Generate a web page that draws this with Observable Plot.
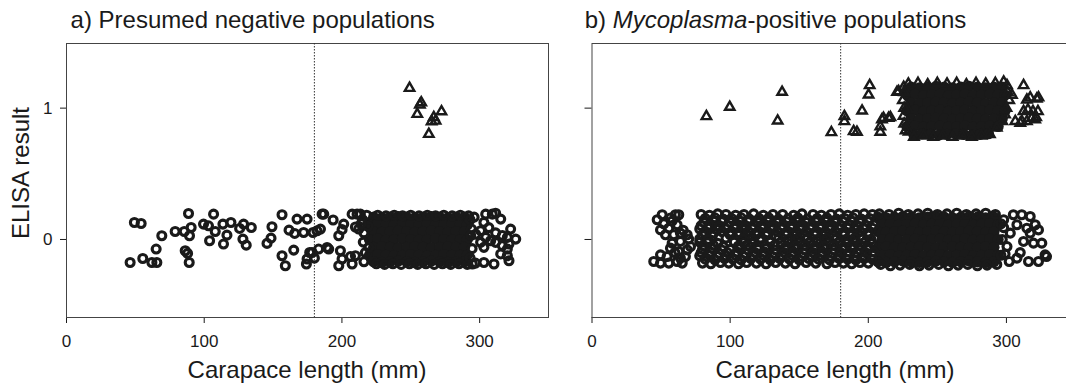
<!DOCTYPE html>
<html><head><meta charset="utf-8">
<script src="https://cdn.jsdelivr.net/npm/d3@7"></script>
<script src="https://cdn.jsdelivr.net/npm/@observablehq/plot@0.6"></script>
<style>
html,body{margin:0;padding:0;background:#fff;overflow:hidden}
#wrap{position:relative;width:1066px;height:385px;overflow:hidden;background:#fff;font-family:"Liberation Sans",Arial,Helvetica,sans-serif;color:#1a1a1a}
.lab{position:absolute;font-size:24px;line-height:1;white-space:nowrap}
.xt{transform:translateX(-50%)}
#pa svg,#pb svg{max-width:none!important}
</style></head>
<body>
<div id="wrap">
  <div id="pa" style="position:absolute;left:0;top:0;width:560px"></div>
  <div id="pb" style="position:absolute;left:560px;top:0;width:515px"></div>
  <div class="lab" style="left:70.6px;top:8px">a) Presumed negative populations</div>
  <div class="lab" style="left:584.7px;top:8px">b) <i>Mycoplasma</i>-positive populations</div>
  <div class="lab xt" style="left:307px;top:358px">Carapace length (mm)</div>
  <div class="lab xt" style="left:835px;top:358px">Carapace length (mm)</div>
  <div class="lab" style="left:20.7px;top:172.5px;transform:translate(-50%,-50%) rotate(-90deg)">ELISA result</div>
</div>
<script>
// ---- data: [carapace length (mm), jittered ELISA result] ----
const xTicks = [0, 100, 200, 300];
const yTicks = [0, 1];
const cutoff = [180];

// Panel a: negatives (open circles)
const aNeg = [
[46.2,-0.175],[49.3,0.129],[54.2,0.122],[55.4,-0.145],[62,-0.175],[65.6,-0.175],[65.1,-0.073],[69.2,0.028],[78.9,0.061],[85.5,0.061],[88.6,0.198],[90.5,0.091],[89.3,0.028],[86.2,-0.086],[87.9,-0.106],[89.1,-0.175],[99.5,0.117],[103.1,0.104],[106.8,0.193],[103.9,-0.01],[108,0.061],[113.6,0.117],[119.4,0.129],[116.5,0.033],[114,-0.035],[125.7,0.084],[128.6,0.117],[134.2,0.091],[128.1,0.003],[130.5,-0.043],[145.6,-0.03],[148.5,0.01],[149.2,0.097],[156.5,0.188],[156.5,-0.124],[158.9,-0.2],[161.6,0.071],[165.7,0.046],[165,-0.081],[167.4,0.155],[172.2,0.053],[174.7,0.155],[174.2,-0.187],[176.6,-0.099],[180,-0.142],[179,0.053],[181.9,0.066],[185.6,0.193],[186.8,0.193],[184.4,0.079],[183.1,-0.073],[178.3,-0.099],[190.4,-0.073],[193.6,0.148],[197.7,0.028],[201.3,0.117],[200.1,0.075],[207.4,0.193],[211,0.193],[213.4,0.193],[209.8,0.095],[212.2,0.08],[174.7,-0.149],[189.2,-0.061],[198.9,-0.086],[200.1,-0.149],[197.7,-0.2],[206.2,-0.13],[209.8,-0.124],[207.4,-0.187],
[215,0.15],[216,0.05],[215.5,-0.02],[217,-0.1],[216,-0.17],[218,0.185],[219,0.1],[219.5,-0.06],[214,0.12],
[226,0.185],[232,0.18],[238,0.185],[244,0.18],[250,0.185],[256,0.18],[262,0.185],[268,0.18],[274,0.185],[280,0.18],[286,0.185],[292,0.18],
[225,-0.185],[231,-0.19],[237,-0.185],[243,-0.19],[249,-0.185],[255,-0.19],[261,-0.185],[267,-0.19],[273,-0.185],[279,-0.19],[285,-0.185],[291,-0.19],
[293,0.15],[294,0.08],[293.5,0.03],[294.5,-0.07],[293,-0.14],[296,0.17],[297,-0.18],
[304.4,0.193],[309.2,0.193],[311.6,0.2],[315.3,0.155],[303.1,0.13],[306.7,0.09],[300.7,0.067],[297.1,0.04],[322.5,0.079],[311.6,0.05],[316.5,0.03],[304.4,0.016],[308,-0.01],[311.6,-0.022],[320.1,0.016],[326.2,0.003],[316.5,-0.047],[321.3,-0.035],[320.1,-0.073],[300.7,-0.022],[303.1,-0.06],[315.3,-0.11],[320.1,-0.124],[310.4,-0.187],[303.1,-0.175],[294.7,-0.187],[321.3,-0.162]
];
// Panel a: overlapping negatives in the dense core
const aNegCore = [
[223,0.17],[229,0.165],[235,0.17],[241,0.175],[247,0.17],[253,0.165],[259,0.17],[265,0.175],[271,0.17],[277,0.165],[283,0.17],[289,0.17],
[220,0.115],[226,0.12],[232,0.115],[238,0.11],[244,0.12],[250,0.115],[256,0.11],[262,0.12],[268,0.115],[274,0.11],[280,0.12],[286,0.115],[291,0.11],
[223,0.06],[229,0.055],[235,0.06],[241,0.065],[247,0.06],[253,0.055],[259,0.06],[265,0.065],[271,0.06],[277,0.055],[283,0.06],[289,0.06],
[220,0],[226,0.005],[232,-0.005],[238,0],[244,0.005],[250,0],[256,-0.005],[262,0],[268,0.005],[274,0],[280,-0.005],[286,0],[291,0],
[223,-0.06],[229,-0.055],[235,-0.06],[241,-0.065],[247,-0.06],[253,-0.055],[259,-0.06],[265,-0.065],[271,-0.06],[277,-0.055],[283,-0.06],[289,-0.06],
[220,-0.12],[226,-0.115],[232,-0.12],[238,-0.125],[244,-0.12],[250,-0.115],[256,-0.12],[262,-0.125],[268,-0.12],[274,-0.115],[280,-0.12],[286,-0.12],[291,-0.12],
[223,-0.17],[229,-0.175],[235,-0.17],[241,-0.165],[247,-0.17],[253,-0.175],[259,-0.17],[265,-0.165],[271,-0.17],[277,-0.175],[283,-0.17],[289,-0.17]
];
// Panel a: positives (triangles)
const aPos = [[249.1,1.152],[257.6,1.043],[256.6,1.025],[254.7,0.954],[272.3,0.974],[268,0.903],[265.1,0.898],[266.7,0.93],[263.1,0.802]];

// Panel b: negatives (open circles)
const bNeg = [
[50.8,0.188],[60.4,0.188],[62.8,0.188],[47.2,0.15],[56.8,0.163],[49.6,0.073],[55.6,0.086],[61.6,0.112],[53.2,0.036],[59.2,0.036],[64,0.048],[68.9,0.036],[58,-0.028],[64,-0.015],[70,0.003],[56.8,-0.066],[62.8,-0.092],[68.9,-0.079],[71.3,-0.054],[49.6,-0.117],[54.4,-0.13],[64,-0.142],[67.6,-0.13],[44.7,-0.168],[49.6,-0.18],[55.6,-0.18],[61.6,-0.168],[65.3,-0.18],[52,0.12],[58,0.14],[66,0.07],[60,-0.1],
[79,0.19],[85,0.185],[91,0.195],[97,0.19],[104,0.185],[110,0.19],[117,0.195],[124,0.185],[131,0.19],[138,0.19],[146,0.185],[152,0.195],[160,0.19],[166,0.185],[173,0.19],[179,0.195],[185,0.185],[191,0.19],[197,0.195],[203,0.19],
[81,0.13],[88,0.14],[94,0.135],[100,0.13],[107,0.14],[113,0.135],[120,0.13],[127,0.14],[134,0.13],[141,0.135],[148,0.14],[155,0.13],[162,0.135],[169,0.14],[176,0.13],[182,0.135],[188,0.14],[194,0.13],[200,0.135],
[78,0.08],[84,0.085],[91,0.075],[97,0.08],[103,0.085],[110,0.075],[116,0.08],[123,0.085],[130,0.075],[137,0.08],[144,0.085],[151,0.075],[158,0.08],[165,0.085],[172,0.075],[179,0.08],[185,0.085],[191,0.075],[197,0.08],[203,0.085],
[80,0.03],[87,0.025],[100,0.035],[106,0.03],[113,0.025],[119,0.035],[126,0.03],[133,0.025],[140,0.035],[147,0.03],[154,0.025],[161,0.035],[168,0.03],[175,0.025],[182,0.035],[188,0.03],[194,0.025],[200,0.035],
[78,-0.02],[84,-0.025],[91,-0.03],[103,-0.02],[110,-0.025],[116,-0.03],[129,-0.02],[137,-0.025],[144,-0.03],[151,-0.02],[158,-0.025],[165,-0.03],[172,-0.02],[179,-0.025],[185,-0.03],[191,-0.02],[197,-0.025],[203,-0.03],
[80,-0.075],[87,-0.07],[94,-0.08],[100,-0.075],[107,-0.07],[113,-0.08],[120,-0.075],[126,-0.07],[133,-0.08],[140,-0.075],[147,-0.07],[154,-0.08],[161,-0.075],[168,-0.07],[175,-0.08],[182,-0.075],[188,-0.07],[194,-0.08],[200,-0.075],
[78,-0.125],[85,-0.12],[91,-0.13],[97,-0.125],[104,-0.12],[110,-0.13],[117,-0.125],[124,-0.12],[131,-0.13],[138,-0.125],[145,-0.12],[152,-0.13],[159,-0.125],[166,-0.12],[173,-0.13],[179,-0.125],[185,-0.12],[191,-0.13],[197,-0.125],[203,-0.12],
[80,-0.18],[86,-0.185],[93,-0.175],[99,-0.18],[106,-0.185],[112,-0.175],[119,-0.18],[126,-0.185],[133,-0.175],[140,-0.18],[147,-0.185],[155,-0.175],[162,-0.18],[170,-0.185],[176,-0.175],[182,-0.18],[188,-0.185],[194,-0.175],[200,-0.18],
[82,0.16],[89,0.165],[95,0.155],[101,0.16],[108,0.165],[114,0.155],[121,0.16],[128,0.165],[135,0.155],[142,0.16],[149,0.165],[156,0.155],[163,0.16],[170,0.165],[177,0.155],[183,0.16],[189,0.165],[195,0.155],[201,0.16],
[79,0.105],[85,0.11],[92,0.1],[98,0.105],[104,0.11],[111,0.1],[117,0.105],[124,0.11],[131,0.1],[138,0.105],[145,0.11],[152,0.1],[159,0.105],[166,0.11],[173,0.1],[180,0.105],[186,0.11],[192,0.1],[198,0.105],[204,0.11],
[81,0.055],[88,0.05],[94,0.06],[100,0.055],[107,0.05],[113,0.06],[120,0.055],[127,0.05],[134,0.06],[141,0.055],[148,0.05],[155,0.06],[162,0.055],[169,0.05],[176,0.06],[182,0.055],[188,0.05],[194,0.06],[200,0.055],
[78,0.005],[84,0],[97,0.01],[109,0.005],[116,0],[122,0.01],[135,0.005],[142,0],[149,0.01],[156,0.005],[163,0],[170,0.01],[177,0.005],[184,0],[190,0.01],[196,0.005],[202,0],
[81,-0.05],[88,-0.045],[95,-0.055],[106,-0.05],[113,-0.045],[120,-0.055],[126,-0.05],[132,-0.045],[140,-0.055],[147,-0.05],[154,-0.045],[161,-0.055],[168,-0.05],[175,-0.045],[182,-0.055],[188,-0.05],[194,-0.045],[200,-0.055],
[79,-0.1],[86,-0.095],[92,-0.105],[98,-0.1],[105,-0.095],[111,-0.105],[118,-0.1],[125,-0.095],[132,-0.105],[139,-0.1],[146,-0.095],[153,-0.105],[160,-0.1],[167,-0.095],[174,-0.105],[180,-0.1],[186,-0.095],[192,-0.105],[198,-0.1],[204,-0.095],
[82,-0.15],[89,-0.155],[96,-0.145],[102,-0.15],[108,-0.155],[115,-0.145],[122,-0.15],[129,-0.155],[136,-0.145],[143,-0.15],[150,-0.155],[157,-0.145],[164,-0.15],[172,-0.155],[179,-0.145],[185,-0.15],[191,-0.155],[197,-0.145],[203,-0.15],
[208,0.195],[215,0.19],[222,0.2],[229,0.19],[236,0.195],[243,0.2],[250,0.19],[257,0.195],[264,0.2],[271,0.19],[278,0.195],[285,0.2],[292,0.19],
[209,-0.19],[216,-0.2],[223,-0.195],[230,-0.19],[237,-0.2],[244,-0.195],[251,-0.19],[258,-0.2],[265,-0.195],[272,-0.19],[279,-0.2],[286,-0.195],[293,-0.19],
[296,0.12],[297,0],[296,-0.12],[298,0.15],[299,-0.11],[298,0.09],
[305,0.188],[311.1,0.188],[317.2,0.175],[307.6,0.112],[314.8,0.086],[320.8,0.112],[317.2,0.048],[323.2,0.073],[325.6,-0.028],[312.4,-0.015],[319.6,-0.028],[328,-0.117],[323.2,-0.168],[316,-0.168],[307.6,-0.142],[310,-0.1],[302.8,0.048],[300.4,-0.054],[302,-0.168],[329,-0.13]
];
// Panel b: overlapping negatives in the dense core
const bNegCore = [
[207,0.17],[213,0.165],[219,0.17],[225,0.175],[231,0.17],[237,0.165],[243,0.17],[249,0.175],[255,0.17],[261,0.165],[267,0.17],[273,0.175],[279,0.17],[285,0.165],[291,0.17],
[210,0.115],[216,0.12],[222,0.11],[228,0.115],[234,0.12],[240,0.11],[246,0.115],[252,0.12],[258,0.11],[264,0.115],[270,0.12],[276,0.11],[282,0.115],[288,0.12],[294,0.115],
[207,0.06],[213,0.055],[219,0.06],[225,0.065],[231,0.06],[237,0.055],[243,0.06],[249,0.065],[255,0.06],[261,0.055],[267,0.06],[273,0.065],[279,0.06],[285,0.055],[291,0.06],
[210,0],[216,0.005],[222,-0.005],[228,0],[234,0.005],[240,-0.005],[246,0],[252,0.005],[258,-0.005],[264,0],[270,0.005],[276,-0.005],[282,0],[288,0.005],[294,0],
[207,-0.06],[213,-0.055],[219,-0.06],[225,-0.065],[231,-0.06],[237,-0.055],[243,-0.06],[249,-0.065],[255,-0.06],[261,-0.055],[267,-0.06],[273,-0.065],[279,-0.06],[285,-0.055],[291,-0.06],
[210,-0.12],[216,-0.115],[222,-0.125],[228,-0.12],[234,-0.115],[240,-0.125],[246,-0.12],[252,-0.115],[258,-0.125],[264,-0.12],[270,-0.115],[276,-0.125],[282,-0.12],[288,-0.115],[294,-0.12],
[207,-0.17],[213,-0.175],[219,-0.17],[225,-0.165],[231,-0.17],[237,-0.175],[243,-0.17],[249,-0.165],[255,-0.17],[261,-0.175],[267,-0.17],[273,-0.165],[279,-0.17],[285,-0.175],[291,-0.17]
];
// Panel b: positives (triangles)
const bPos = [
[82.8,0.937],[99.7,1.008],[137.6,1.122],[134.4,0.904],[173.3,0.815],[182.7,0.937],[182.7,0.899],[189.4,0.823],[191.8,0.818],[195.5,0.98],[201,1.173],[200.2,1.102],[208.7,0.818],[208.7,0.86],[209.9,0.912],[214.7,0.925],[216,0.93],[211,0.925],[220.8,1.122],[222,1.127],[225.6,1.16],[228,1.0],[229.2,0.82],
[229,1.185],[236,1.19],[243,1.18],[250,1.19],[257,1.185],[264,1.19],[271,1.18],[278,1.19],[285,1.185],[292,1.19],[298,1.2],[300.4,1.173],
[226,1.12],[225,1.06],[226,1.0],[225.5,0.94],[226,0.88],[227,0.83],
[233,0.78],[240,0.79],[247,0.78],[254,0.79],[261,0.78],[268,0.79],[275,0.78],[282,0.79],[288,0.8],
[301,1.12],[302,1.06],[300,1.0],[299,0.95],[297,0.9],[293,0.85],[304,1.1],[306.4,0.9],
[312.4,1.173],[314.8,1.064],[322,1.07],[317.2,1.08],[323.2,1.08],[315.6,0.988],[319.2,0.975],[322.8,0.975],[312.4,0.975],[311.2,0.9],[318.4,0.924],[321.5,0.929],[320.8,0.912],[314.8,0.9],[310,0.887]
];
// Panel b: overlapping positives in the dense core
const bPosCore = [
[231,1.16],[237,1.155],[243,1.16],[249,1.165],[255,1.16],[261,1.155],[267,1.16],[273,1.165],[279,1.16],[285,1.155],[291,1.16],[297,1.16],
[228,1.1],[234,1.105],[240,1.095],[246,1.1],[252,1.105],[258,1.095],[264,1.1],[270,1.105],[276,1.095],[282,1.1],[288,1.105],[294,1.1],[299,1.1],
[231,1.04],[237,1.035],[243,1.04],[249,1.045],[255,1.04],[261,1.035],[267,1.04],[273,1.045],[279,1.04],[285,1.035],[291,1.04],[297,1.04],
[228,0.98],[234,0.985],[240,0.975],[246,0.98],[252,0.985],[258,0.975],[264,0.98],[270,0.985],[276,0.975],[282,0.98],[288,0.985],[294,0.98],[299,0.98],
[231,0.92],[237,0.915],[243,0.92],[249,0.925],[255,0.92],[261,0.915],[267,0.92],[273,0.925],[279,0.92],[285,0.915],[291,0.92],[297,0.92],
[228,0.86],[234,0.865],[240,0.855],[246,0.86],[252,0.865],[258,0.855],[264,0.86],[270,0.865],[276,0.855],[282,0.86],[288,0.865],[294,0.86],
[233,0.8],[239,0.805],[245,0.8],[251,0.795],[257,0.8],[263,0.805],[269,0.8],[275,0.795],[281,0.8],[287,0.805]
];

const ink = "#1a1a1a";
const yDomain = [-0.594, 1.492];
const xDomain = [0, 350];

function panel(opts) {
  return Plot.plot({
    width: opts.width, height: 385,
    marginLeft: opts.marginLeft, marginRight: opts.marginRight, marginTop: 43, marginBottom: 68,
    style: {fontFamily: '"Liberation Sans", Arial, Helvetica, sans-serif', fontSize: "17px", color: ink, background: "transparent", overflow: "visible", maxWidth: "none"},
    x: {domain: xDomain, ticks: xTicks, tickSize: 6, tickPadding: 11, label: null},
    y: {domain: yDomain, ticks: yTicks, tickSize: opts.yTickSize, tickPadding: 8, label: null, tickFormat: opts.yLabels ? d => String(d) : () => ""},
    marks: [
      Plot.frame({stroke: "#444", strokeWidth: 1}),
      Plot.ruleX(cutoff, {stroke: "#333", strokeWidth: 1, strokeDasharray: "1.5,1.5"}),
      Plot.dot(opts.negCore, {x: d => d[0], y: d => d[1], r: 5.6, fill: ink, stroke: null}),
      Plot.dot(opts.posCore, {x: d => d[0], y: d => d[1], r: 5.6, fill: ink, stroke: null}),
      Plot.dot(opts.neg, {x: d => d[0], y: d => d[1], r: 4, fill: "none", stroke: ink, strokeWidth: 3.1}),
      Plot.dot(opts.pos, {x: d => d[0], y: d => d[1], r: 3.5, symbol: "triangle", fill: "none", stroke: ink, strokeWidth: 2.4})
    ]
  });
}

document.getElementById("pa").append(panel({
  width: 560, marginLeft: 66, marginRight: 12, yTickSize: 6, yLabels: true,
  neg: aNeg, negCore: aNegCore, pos: aPos, posCore: []
}));
document.getElementById("pb").append(panel({
  width: 515, marginLeft: 31.5, marginRight: 0, yTickSize: 7, yLabels: false,
  neg: bNeg, negCore: bNegCore, pos: bPos, posCore: bPosCore
}));
</script>
</body></html>
